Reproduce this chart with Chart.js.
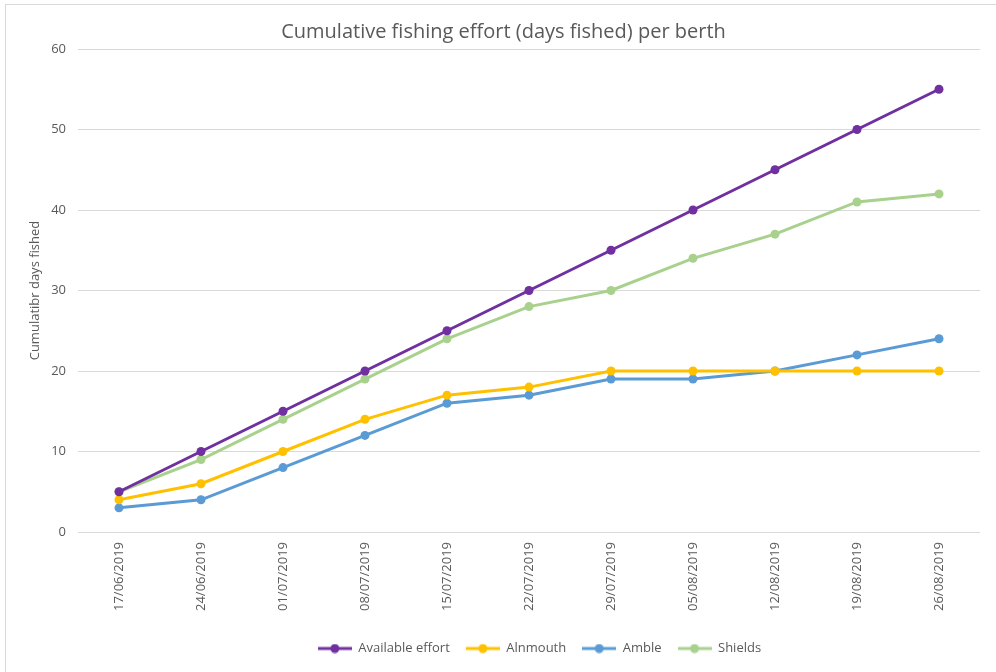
<!DOCTYPE html>
<html><head><meta charset="utf-8">
<script src="https://cdn.jsdelivr.net/npm/chart.js@4"></script>
<style>
html,body{margin:0;padding:0;background:#fff;}
#wrap{position:relative;width:996px;height:672px;overflow:hidden;background:#fff;}
#frame{position:absolute;left:5px;top:4px;width:1000px;height:700px;border:1px solid #d9d9d9;box-sizing:border-box}
canvas{position:absolute;left:0;top:0}
</style></head><body>
<div id="wrap"><div id="frame"></div><canvas id="c" width="996" height="672"></canvas></div>
<script>
const categories = ['17/06/2019','24/06/2019','01/07/2019','08/07/2019','15/07/2019','22/07/2019','29/07/2019','05/08/2019','12/08/2019','19/08/2019','26/08/2019'];
const availableEffort = [5,10,15,20,25,30,35,40,45,50,55];
const alnmouth = [4,6,10,14,17,18,20,20,20,20,20];
const amble = [3,4,8,12,16,17,19,19,20,22,24];
const shields = [5,9,14,19,24,28,30,34,37,41,42];
const yTicks = [0,10,20,30,40,50,60];
const seriesNames = ['Available effort','Alnmouth','Amble','Shields'];
const seriesColors = ['#7030A0','#FFC000','#5B9BD5','#A9D18E'];
const seriesData = [availableEffort, alnmouth, amble, shields];

const FONT = "'Open Sans', 'DejaVu Sans', sans-serif";
const TEXT = '#595959';

function marker(color){
  const c=document.createElement('canvas'); c.width=34; c.height=10;
  const g=c.getContext('2d');
  g.strokeStyle=color; g.lineWidth=3;
  g.beginPath(); g.moveTo(0,5); g.lineTo(34,5); g.stroke();
  g.fillStyle=color; g.beginPath(); g.arc(17,5,4.5,0,2*Math.PI); g.fill();
  return c;
}

const legendShift = {
  id:'legendShift',
  afterLayout(chart){
    const lg=chart.legend;
    if(lg){ lg.left+=36; lg.right+=36; }
  }
};

new Chart(document.getElementById('c'), {
  type:'line',
  plugins:[legendShift],
  data:{
    labels:categories,
    datasets: seriesNames.map((n,i)=>({
      label:n, data:seriesData[i],
      borderColor:seriesColors[i], backgroundColor:seriesColors[i],
      borderWidth:3, pointRadius:4.5, pointHoverRadius:4.5,
      pointBorderWidth:0, tension:0, fill:false
    }))
  },
  options:{
    responsive:false, animation:false, devicePixelRatio:1,
    layout:{padding:{left:27,right:16,top:10,bottom:7}},
    plugins:{
      title:{display:true,text:'Cumulative fishing effort (days fished) per berth',
        color:TEXT,font:{family:FONT,size:20,weight:'normal'},padding:{top:10,bottom:5}},
      legend:{position:'bottom',
        labels:{usePointStyle:true,pointStyleWidth:34,color:TEXT,padding:16,
          font:{family:FONT,size:13},
          generateLabels(chart){
            const items=Chart.defaults.plugins.legend.labels.generateLabels(chart);
            items.forEach((it,i)=>{it.pointStyle=marker(seriesColors[i]);it.fontColor=TEXT;});
            return items;
          }}},
      tooltip:{enabled:false}
    },
    scales:{
      x:{offset:true,
        afterFit(s){s.height+=5;},
        grid:{display:false,drawTicks:false},
        border:{display:false},
        ticks:{color:TEXT,font:{family:FONT,size:13},maxRotation:90,minRotation:90,padding:10,autoSkip:false}},
      y:{min:0,max:60,
        afterFit(s){s.width=51;},
        grid:{color:'#d9d9d9',drawTicks:false,lineWidth:1},
        border:{display:false},
        afterBuildTicks(s){s.ticks=yTicks.map(v=>({value:v}));},
        ticks:{color:TEXT,font:{family:FONT,size:13},padding:12},
        title:{display:true,text:'Cumulatibr days fished',color:TEXT,font:{family:FONT,size:13},padding:{top:0,bottom:0}}}
    }
  }
});
</script>
</body></html>
